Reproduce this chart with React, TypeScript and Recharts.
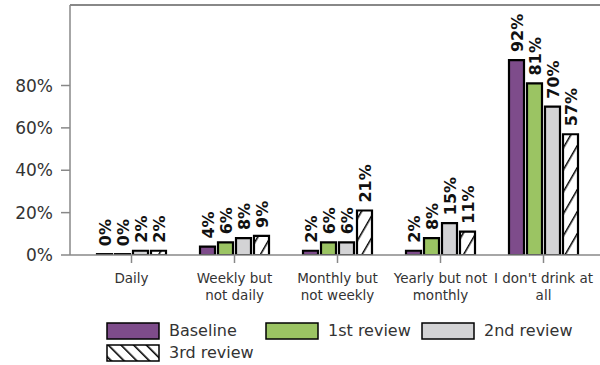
import React from 'react';
import { BarChart, Bar, XAxis, YAxis, LabelList, Legend, ReferenceLine } from 'recharts';

const categories = ['Daily', 'Weekly but\nnot daily', 'Monthly but\nnot weekly', 'Yearly but not\nmonthly', "I don't drink at\nall"];
const baseline = [0.4, 4, 2, 2, 92];
const review1 = [0.4, 6, 6, 8, 81];
const review2 = [2, 8, 6, 15, 70];
const review3 = [2, 9, 21, 11, 57];
const yTicks = [0, 20, 40, 60, 80];
const yMax = 118;
const seriesKeys = ['baseline', 'review1', 'review2', 'review3'];
const seriesNames = ['Baseline', '1st review', '2nd review', '3rd review'];
const seriesFills = ['#7E4C8B', '#9BC463', '#D3D3D5', 'url(#hatchBar)'];

const data = categories.map((c, i) => ({
  name: c,
  baseline: baseline[i],
  review1: review1[i],
  review2: review2[i],
  review3: review3[i],
}));

const FONT = 'DejaVu Sans';

const XTick = (props: any) => {
  const { x, y, payload } = props;
  const lines = String(payload.value).split('\n');
  return (
    <g transform={`translate(${x},${y})`}>
      {lines.map((l: string, i: number) => (
        <text key={i} x={0} y={18 + i * 17} textAnchor="middle" fill="#333" fontSize={13.5} fontFamily={FONT}>
          {l}
        </text>
      ))}
    </g>
  );
};

const renderLabel = (props: any) => {
  const vb = props.viewBox && props.viewBox.width !== undefined ? props.viewBox : props;
  const { x, y, width } = vb;
  const cx = x + width / 2 + 1;
  const ty = y - 8;
  return (
    <text
      x={cx}
      y={ty}
      transform={`rotate(-90 ${cx} ${ty})`}
      textAnchor="start"
      dominantBaseline="central"
      fontWeight="bold"
      fontSize={16}
      fontFamily={FONT}
      fill="#111"
    >
      {Math.round(Number(props.value))}%
    </text>
  );
};

const LegendContent = () => {
  const pos = [
    { left: 106, top: 0 },
    { left: 265, top: 0 },
    { left: 421, top: 0 },
    { left: 106, top: 22 },
  ];
  return (
    <div style={{ position: 'relative', width: 600, height: 45, fontFamily: FONT }}>
      {seriesNames.map((n, i) => (
        <div key={n} style={{ position: 'absolute', left: pos[i].left, top: pos[i].top, display: 'flex', alignItems: 'center', height: 18 }}>
          <svg width={54} height={18} style={{ display: 'block' }}>
            <defs>
              <pattern id={`hatchLeg${i}`} patternUnits="userSpaceOnUse" width={9} height={9} patternTransform="rotate(-45)">
                <rect width={9} height={9} fill="#fff" />
                <line x1={0} y1={0} x2={0} y2={9} stroke="#000" strokeWidth={3.2} />
              </pattern>
            </defs>
            <rect x={1} y={1} width={52} height={16} fill={i === 3 ? `url(#hatchLeg${i})` : seriesFills[i]} stroke="#000" strokeWidth={1.5} />
          </svg>
          <span style={{ marginLeft: 9, fontSize: 16, color: '#333', whiteSpace: 'nowrap', lineHeight: '18px' }}>{n}</span>
        </div>
      ))}
    </div>
  );
};

export default function App() {
  return (
    <div style={{ position: 'absolute', left: 0, top: 0, width: 600, height: 365, background: '#fff' }}>
      <BarChart
        width={600}
        height={365}
        data={data}
        margin={{ top: 5, right: 0, bottom: 0, left: 0 }}
        barSize={15}
        barGap={3}
      >
        <defs>
          <pattern id="hatchBar" patternUnits="userSpaceOnUse" width={11} height={11} patternTransform="rotate(30)">
            <rect width={11} height={11} fill="#fff" />
            <line x1={0} y1={0} x2={0} y2={11} stroke="#000" strokeWidth={3} />
          </pattern>
        </defs>
        <XAxis
          dataKey="name"
          height={110}
          padding={{ left: 10, right: 5 }}
          tickSize={8}
          stroke="#888"
          strokeWidth={1.5}
          interval={0}
          tick={<XTick />}
        />
        <YAxis
          width={70}
          domain={[0, yMax]}
          ticks={yTicks}
          allowDataOverflow
          tickFormatter={(v: number) => `${v}%`}
          tickSize={9}
          tickMargin={8}
          stroke="#888"
          strokeWidth={1.5}
          tick={{ fill: '#333', fontSize: 17, fontFamily: FONT }}
        />
        <ReferenceLine y={yMax} stroke="#888" strokeWidth={2} ifOverflow="visible" />
        <Legend
          layout="horizontal"
          verticalAlign="middle"
          align="center"
          wrapperStyle={{ position: 'absolute', left: 0, top: 322, width: 600, height: 45 }}
          content={<LegendContent />}
        />
        {seriesKeys.map((k, i) => (
          <Bar key={k} dataKey={k} name={seriesNames[i]} fill={seriesFills[i]} stroke="#000" strokeWidth={2.2} isAnimationActive={false}>
            <LabelList dataKey={k} content={renderLabel} />
          </Bar>
        ))}
      </BarChart>
    </div>
  );
}
